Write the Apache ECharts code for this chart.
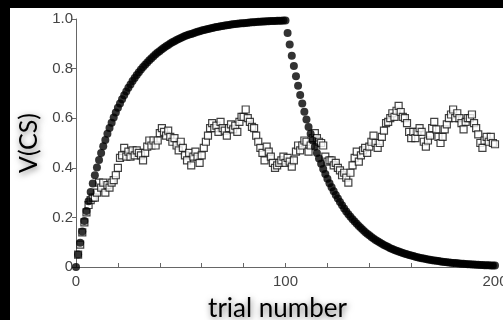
<!DOCTYPE html>
<html style="height: 100%">
<head>
<meta charset="utf-8">
<script src="https://cdn.jsdelivr.net/npm/echarts@6/dist/echarts.min.js"></script>
</head>
<body style="height: 100%; margin: 0; background: #000">
<div id="container" style="width: 503px; height: 320px"></div>
<script type="text/javascript">
// filled circles: V(CS) for trials 0..200 (acquisition to 100, then extinction)
var vAcquire = [0, 0.05, 0.098, 0.143, 0.185, 0.226, 0.265, 0.302, 0.337, 0.37,
    0.401, 0.431, 0.46, 0.487, 0.512, 0.537, 0.56, 0.582, 0.603, 0.623,
    0.642, 0.659, 0.676, 0.693, 0.708, 0.723, 0.736, 0.75, 0.762, 0.774,
    0.785, 0.796, 0.806, 0.816, 0.825, 0.834, 0.842, 0.85, 0.858, 0.865,
    0.871, 0.878, 0.884, 0.89, 0.895, 0.901, 0.906, 0.91, 0.915, 0.919,
    0.923, 0.927, 0.931, 0.934, 0.937, 0.94, 0.943, 0.946, 0.949, 0.951,
    0.954, 0.956, 0.958, 0.96, 0.962, 0.964, 0.966, 0.968, 0.969, 0.971,
    0.972, 0.974, 0.975, 0.976, 0.978, 0.979, 0.98, 0.981, 0.982, 0.983,
    0.983, 0.984, 0.985, 0.986, 0.987, 0.987, 0.988, 0.989, 0.989, 0.99,
    0.99, 0.991, 0.991, 0.992, 0.992, 0.992, 0.993, 0.993, 0.993, 0.994, 0.994];
var vExtinct = [0.944, 0.897, 0.852, 0.81, 0.769, 0.731, 0.694, 0.659, 0.626, 0.595,
    0.565, 0.537, 0.51, 0.485, 0.46, 0.437, 0.416, 0.395, 0.375, 0.356,
    0.338, 0.322, 0.305, 0.29, 0.276, 0.262, 0.249, 0.236, 0.224, 0.213,
    0.203, 0.193, 0.183, 0.174, 0.165, 0.157, 0.149, 0.141, 0.134, 0.128,
    0.121, 0.115, 0.109, 0.104, 0.099, 0.094, 0.089, 0.085, 0.081, 0.076,
    0.073, 0.069, 0.066, 0.062, 0.059, 0.056, 0.053, 0.051, 0.048, 0.046,
    0.044, 0.041, 0.039, 0.037, 0.035, 0.034, 0.032, 0.03, 0.029, 0.027,
    0.026, 0.025, 0.024, 0.022, 0.021, 0.02, 0.019, 0.018, 0.017, 0.016,
    0.016, 0.015, 0.014, 0.013, 0.013, 0.012, 0.011, 0.011, 0.01, 0.01,
    0.009, 0.009, 0.008, 0.008, 0.007, 0.007, 0.007, 0.006, 0.006, 0.006];
// open squares: trials 1..200
var vPartial = [0.05, 0.09, 0.14, 0.18, 0.22, 0.25, 0.27, 0.28, 0.28, 0.30,
    0.34, 0.32, 0.34, 0.30, 0.33, 0.32, 0.34, 0.35, 0.37, 0.40,
    0.44, 0.45, 0.48, 0.445, 0.465, 0.445, 0.47, 0.45, 0.47, 0.46,
    0.45, 0.43, 0.46, 0.485, 0.51, 0.49, 0.51, 0.49, 0.51, 0.54,
    0.56, 0.545, 0.53, 0.55, 0.525, 0.505, 0.52, 0.49, 0.47, 0.505,
    0.48, 0.45, 0.43, 0.46, 0.41, 0.445, 0.465, 0.445, 0.42, 0.45,
    0.48, 0.505, 0.53, 0.56, 0.58, 0.56, 0.57, 0.545, 0.585, 0.56,
    0.55, 0.53, 0.56, 0.575, 0.555, 0.57, 0.545, 0.585, 0.605, 0.605,
    0.635, 0.60, 0.585, 0.565, 0.56, 0.53, 0.505, 0.48, 0.46, 0.43,
    0.485, 0.465, 0.445, 0.42, 0.40, 0.41, 0.42, 0.43, 0.445, 0.42,
    0.44, 0.425, 0.405, 0.43, 0.465, 0.49, 0.47, 0.49, 0.51, 0.505,
    0.465, 0.49, 0.52, 0.54, 0.52, 0.505, 0.50, 0.49, 0.445, 0.425,
    0.43, 0.43, 0.41, 0.42, 0.40, 0.39, 0.37, 0.38, 0.36, 0.34,
    0.38, 0.41, 0.44, 0.465, 0.425, 0.45, 0.47, 0.48, 0.46, 0.485,
    0.505, 0.53, 0.50, 0.48, 0.50, 0.525, 0.55, 0.58, 0.585, 0.60,
    0.62, 0.605, 0.63, 0.65, 0.625, 0.605, 0.60, 0.58, 0.545, 0.52,
    0.545, 0.52, 0.545, 0.56, 0.545, 0.505, 0.485, 0.51, 0.53, 0.56,
    0.585, 0.555, 0.525, 0.50, 0.525, 0.555, 0.575, 0.60, 0.615, 0.635,
    0.60, 0.62, 0.60, 0.58, 0.555, 0.585, 0.60, 0.60, 0.615, 0.58,
    0.56, 0.535, 0.50, 0.48, 0.51, 0.525, 0.505, 0.525, 0.50, 0.495];

var filledData = [];
vAcquire.concat(vExtinct).forEach(function (v, i) {
    filledData.push([i, v]);
});
var openData = [];
vPartial.forEach(function (v, i) {
    openData.push([i + 1, v]);
});

var myChart = echarts.init(document.getElementById('container'));
var labelColor = '#444';
var shadow = {
    color: '#000',
    textShadowColor: 'rgba(0,0,0,0.55)', textShadowBlur: 6, textShadowOffsetX: 1, textShadowOffsetY: 2
};
var option = {
    animation: false,
    backgroundColor: '#000',
    graphic: [{
        type: 'rect',
        z: -10,
        shape: { x: 10, y: 8, width: 493, height: 312 },
        style: { fill: '#fff' }
    }],
    grid: { left: 76, right: 8, top: 19, bottom: 53, outerBoundsMode: 'none' },
    xAxis: {
        type: 'value', min: 0, max: 200, interval: 20,
        name: 'trial number', nameLocation: 'middle', nameGap: 29,
        nameTextStyle: Object.assign({ fontFamily: 'Lato', fontSize: 26, padding: [0, 16, 0, 0] }, shadow),
        axisLine: { lineStyle: { color: '#666', width: 1 } },
        axisTick: { inside: true, length: 4, lineStyle: { color: '#666' } },
        axisLabel: {
            color: labelColor, fontFamily: 'Liberation Sans', fontSize: 15, margin: 7,
            formatter: function (v) { return v % 100 === 0 ? String(v) : ''; }
        },
        splitLine: { show: false }
    },
    yAxis: {
        type: 'value', min: 0, max: 1, interval: 0.2,
        name: 'V(CS)', nameLocation: 'middle', nameGap: 34,
        nameTextStyle: Object.assign({ fontFamily: 'Lato', fontSize: 25 }, shadow),
        axisLine: { show: true, lineStyle: { color: '#666', width: 1 } },
        axisTick: { length: 4, lineStyle: { color: '#666' } },
        axisLabel: {
            color: labelColor, fontFamily: 'Liberation Sans', fontSize: 15, margin: 3,
            formatter: function (v) { return v === 0 ? '0' : v.toFixed(1); }
        },
        splitLine: { show: false }
    },
    series: [{
        type: 'scatter',
        data: openData,
        symbol: 'rect',
        symbolSize: 7,
        z: 2,
        itemStyle: { color: '#fff', borderColor: '#111', borderWidth: 1.2 }
    }, {
        type: 'scatter',
        data: filledData,
        symbol: 'circle',
        symbolSize: 8,
        z: 3,
        itemStyle: { color: '#000' }
    }]
};
myChart.setOption(option);
</script>
</body>
</html>
